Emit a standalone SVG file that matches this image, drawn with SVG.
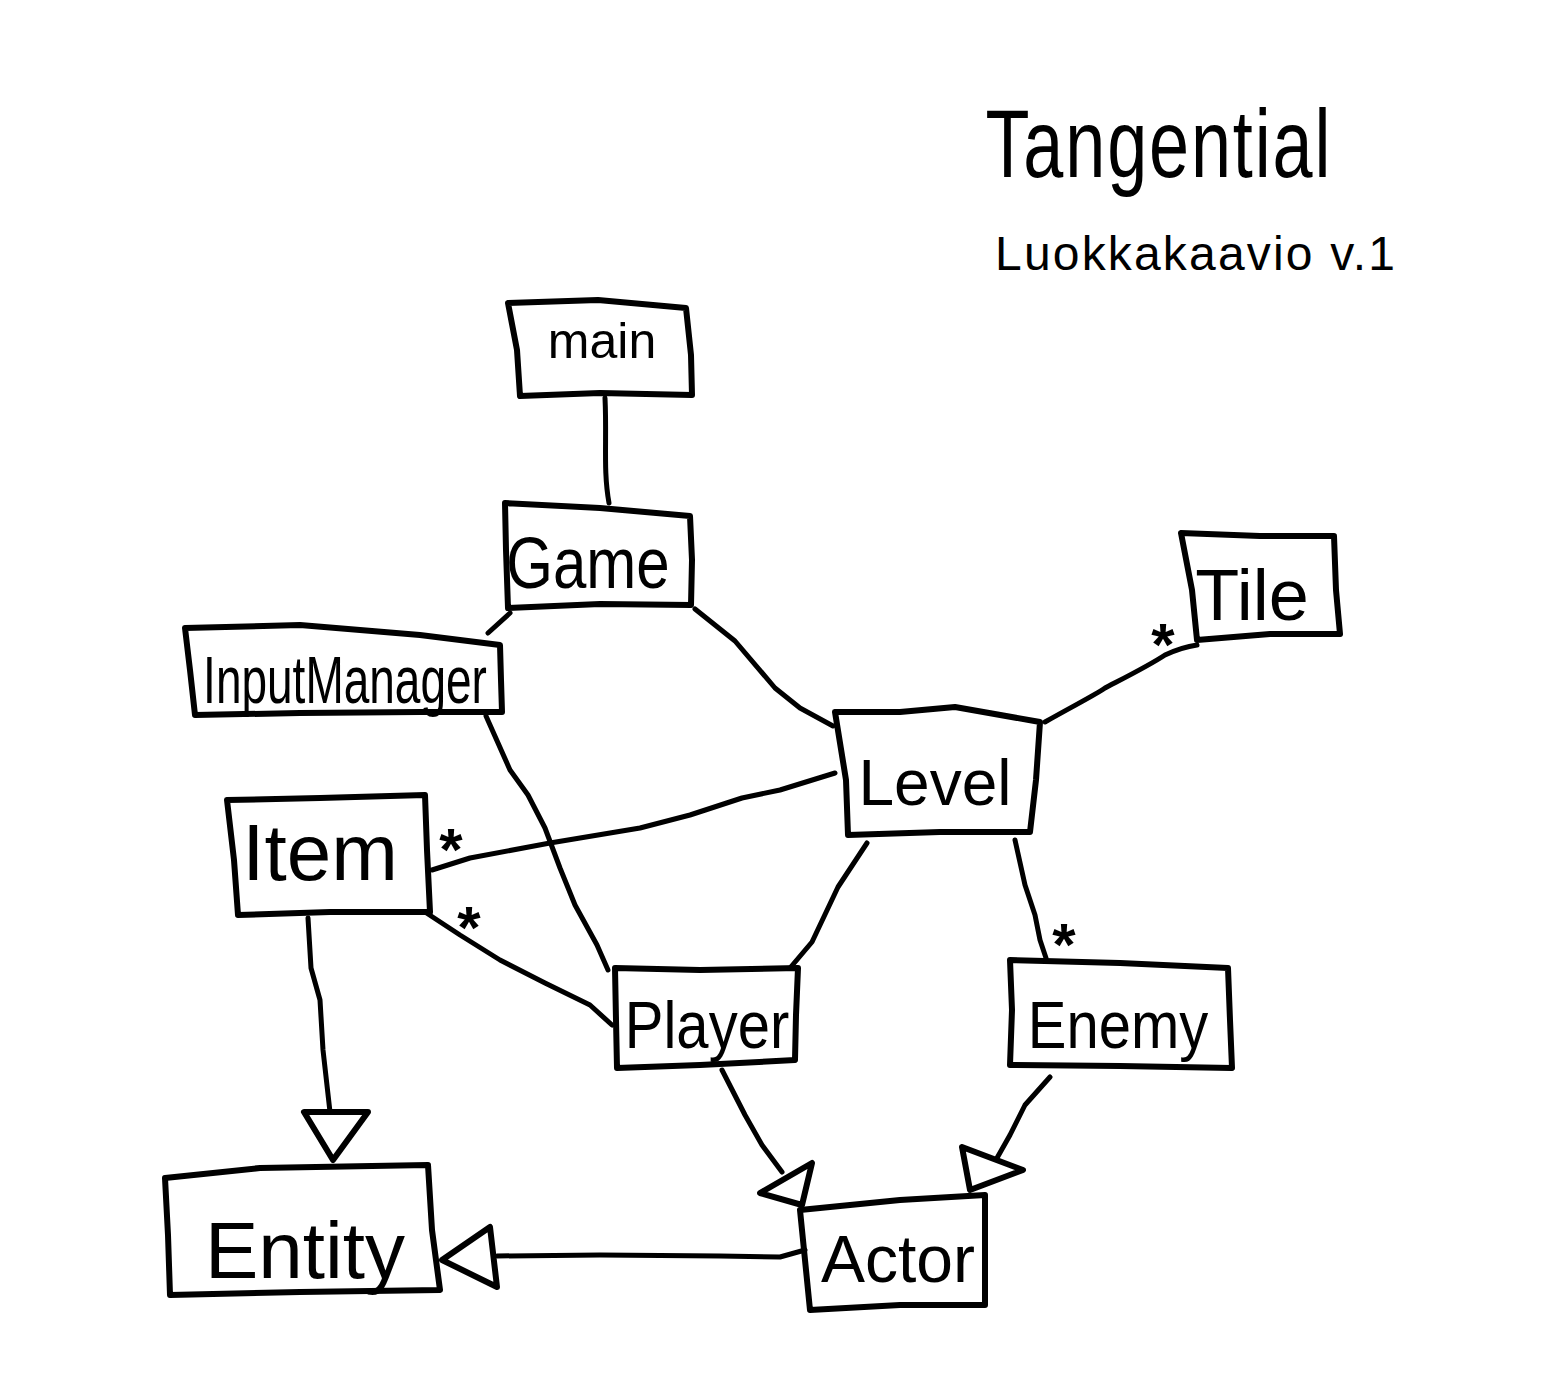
<svg xmlns="http://www.w3.org/2000/svg" width="1544" height="1397" viewBox="0 0 1544 1397">
<style>
.b{fill:none;stroke:#000;stroke-width:6;stroke-linecap:round;stroke-linejoin:round}
.c{fill:none;stroke:#000;stroke-width:5;stroke-linecap:round;stroke-linejoin:round}
.h{fill:#fff;stroke:#000;stroke-width:6;stroke-linejoin:round}
text{font-family:"Liberation Sans",Arial,sans-serif;fill:#000;text-anchor:middle}
.s{font-size:60px;font-weight:bold}
</style>
<rect width="1544" height="1397" fill="#fff"/>
<g id="title">
<text transform="translate(1158,177) scale(1,1.35)" font-size="72" textLength="345" lengthAdjust="spacing">Tangential</text>
<text x="1195" y="270" font-size="48" textLength="400" lengthAdjust="spacing">Luokkakaavio v.1</text>
</g>
<g id="connectors">
<path class="c" d="M605,398 C607,440 603,470 609,503"/>
<path class="c" d="M510,613 L488,633"/>
<path class="c" d="M695,609 L735,641 L775,688 L800,708 L833,726"/>
<path class="c" d="M1045,722 C1075,705 1095,695 1105,688 C1130,675 1150,665 1165,655 C1180,648 1190,646 1197,645"/>
<path class="c" d="M835,773 L780,790 L742,798 L690,815 L640,828 L550,843 L470,858 L432,870"/>
<path class="c" d="M486,716 L510,770 L528,795 L545,828 L560,868 L575,905 L597,945 L608,970"/>
<path class="c" d="M425,912 L460,935 L500,960 L545,983 L590,1005 L612,1025"/>
<path class="c" d="M867,843 L838,887 L812,942 L790,968"/>
<path class="c" d="M1015,840 L1025,885 L1035,915 L1040,940 L1046,958"/>
<path class="c" d="M308,918 L311,968 L320,1000 L323,1050 L330,1112"/>
<path class="h" d="M304,1112 L368,1112 L333,1160 Z"/>
<path class="c" d="M722,1070 L745,1115 L762,1145 L782,1172"/>
<path class="h" d="M760,1193 L812,1163 L802,1205 Z"/>
<path class="c" d="M1050,1077 L1025,1105 L1010,1135 L997,1158"/>
<path class="h" d="M962,1147 L1023,1170 L970,1190 Z"/>
<path class="c" d="M805,1250 L780,1257 L720,1256 L600,1255 L497,1256"/>
<path class="h" d="M442,1260 L490,1227 L497,1287 Z"/>
<text class="s" x="1163" y="665">*</text>
<text class="s" x="451" y="870">*</text>
<text class="s" x="469" y="948">*</text>
<text class="s" x="1064" y="965">*</text>
</g>
<g id="main">
<path class="b" d="M508,303 L598,300 L686,308 L691,355 L692,395 L600,393 L520,396 L517,350 Z"/>
<text x="602" y="358" font-size="50">main</text>
</g>
<g id="Game">
<path class="b" d="M505,503 L600,508 L690,516 L692,560 L691,605 L600,604 L508,608 L506,550 Z"/>
<text transform="translate(588,588) scale(1,1.2)" font-size="60">Game</text>
</g>
<g id="InputManager">
<path class="b" d="M185,628 L300,625 L420,635 L500,645 L501,680 L502,712 L420,712 L300,713 L195,715 L190,670 Z"/>
<text transform="translate(345,703) scale(1,1.45)" font-size="46">InputManager</text>
</g>
<g id="Tile">
<path class="b" d="M1181,533 L1260,536 L1334,536 L1336,590 L1340,634 L1270,634 L1197,640 L1192,590 Z"/>
<text x="1252" y="620" font-size="72">Tile</text>
</g>
<g id="Level">
<path class="b" d="M835,712 L900,712 L955,707 L1040,722 L1036,780 L1030,832 L940,832 L848,835 L846,780 Z"/>
<text x="935" y="805" font-size="64">Level</text>
</g>
<g id="Item">
<path class="b" d="M227,800 L320,798 L425,795 L427,850 L430,912 L330,912 L238,915 L234,860 Z"/>
<text x="320" y="880" font-size="80">Item</text>
</g>
<g id="Player">
<path class="b" d="M615,968 L700,970 L798,968 L796,1015 L795,1060 L700,1065 L617,1068 L616,1020 Z"/>
<text transform="translate(707,1048) scale(1,1.15)" font-size="58">Player</text>
</g>
<g id="Enemy">
<path class="b" d="M1010,960 L1120,963 L1228,968 L1230,1020 L1232,1068 L1120,1066 L1010,1065 L1012,1010 Z"/>
<text transform="translate(1118,1048) scale(1,1.15)" font-size="58">Enemy</text>
</g>
<g id="Entity">
<path class="b" d="M165,1178 L260,1168 L428,1165 L432,1230 L440,1290 L300,1292 L170,1295 L168,1235 Z"/>
<text x="305" y="1278" font-size="80">Entity</text>
</g>
<g id="Actor">
<path class="b" d="M800,1210 L900,1200 L985,1195 L985,1250 L985,1305 L900,1305 L810,1310 L805,1260 Z"/>
<text x="898" y="1282" font-size="66">Actor</text>
</g>
</svg>
